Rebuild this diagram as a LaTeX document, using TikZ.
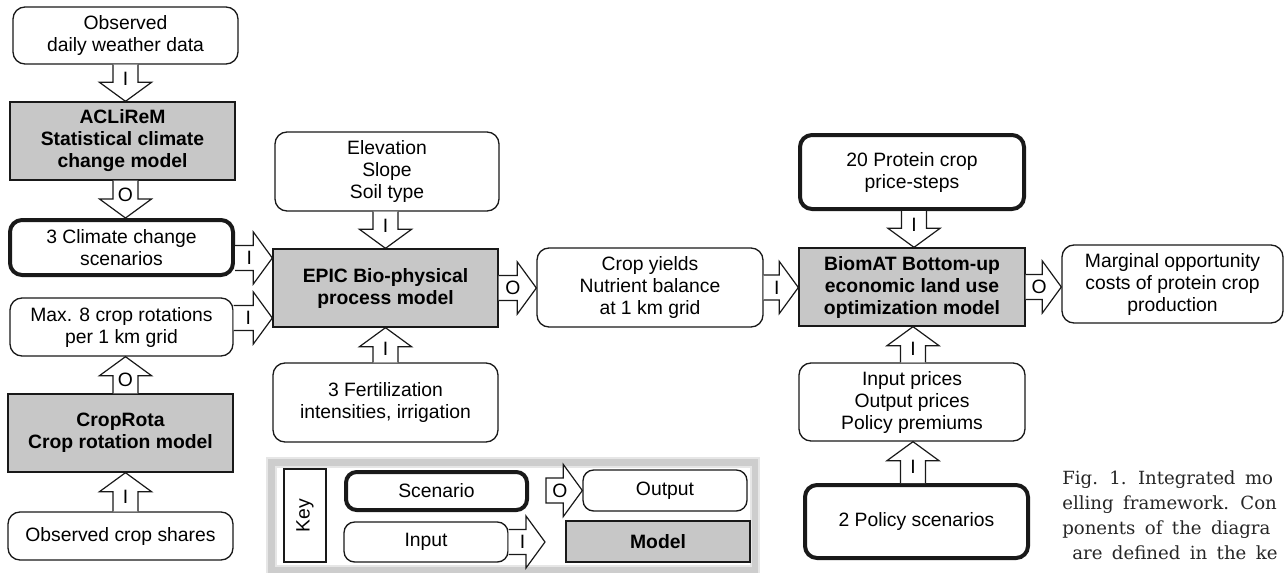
\documentclass[tikz,border=0pt]{standalone}
\usepackage{fontspec}
\setmainfont{Liberation Sans}
\newfontfamily\capfont{DejaVu Serif}
\usetikzlibrary{calc}
\definecolor{modelgray}{RGB}{199,199,199}
\definecolor{framegray}{RGB}{205,205,205}
\def\basw{9.4pt}
\def\bahw{19.5pt}
\def\bahl{14.25pt}
\newcommand\capsetup{\capfont\fontsize{13.6}{18}\selectfont\spaceskip=0.52em plus 0.1em\relax}
\newcommand\barrow[4][]{%
  \coordinate (ba-s) at (#2);
  \coordinate (ba-e) at (#3);
  \coordinate (ba-h) at ($(ba-e)!\bahl!(ba-s)$);
  \draw[blockarrow] ($(ba-s)!\basw!90:(ba-e)$) -- ($(ba-h)!\basw!90:(ba-e)$) -- ($(ba-h)!\bahw!90:(ba-e)$) -- (ba-e) -- ($(ba-h)!\bahw!-90:(ba-e)$) -- ($(ba-h)!\basw!-90:(ba-e)$) -- ($(ba-s)!\basw!-90:(ba-e)$) #1;
  \node[alabel] at ($(ba-s)!0.38!(ba-e)$) {#4};
}
\tikzset{
  txt/.style={font=\fontsize{14.5}{16.5}\selectfont},
  box/.style={txt, draw=black!90, line width=1pt, rounded corners=9pt, fill=white, align=center, inner sep=2pt},
  scen/.style={box, line width=3pt},
  model/.style={txt, font=\bfseries\fontsize{14.5}{16.5}\selectfont, draw=black!90, line width=1pt, fill=modelgray, align=center, inner sep=2pt},
  blockarrow/.style={draw=black!90, line width=0.9pt, fill=white, line join=miter},
  alabel/.style={txt, inner sep=0pt},
  captxt/.style={font=\capsetup, text=black!85, inner sep=0pt, anchor=base west},
}
\begin{document}
\begin{tikzpicture}[x=0.75pt,y=-0.75pt]
\useasboundingbox (0,0) rectangle (1285,572);

% left column
\node[box, minimum width=168.75pt, minimum height=42.75pt] (obs) at (125.5,35.5) {Observed\\daily weather data};
\node[model, minimum width=168.75pt, minimum height=58.5pt] (acl) at (122.5,141) {ACLiReM\\Statistical climate\\change model};
\node[scen, minimum width=167.25pt, minimum height=41.25pt] (clim) at (121.5,247.5) {3 Climate change\\scenarios};
\node[box, minimum width=167.25pt, minimum height=43.5pt] (rot) at (121.5,327) {Max. 8 crop rotations\\per 1 km grid};
\node[model, minimum width=168.75pt, minimum height=58.5pt] (crop) at (120.5,433) {CropRota\\Crop rotation model};
\node[box, minimum width=168.75pt, minimum height=36pt] (shares) at (120.5,536) {Observed crop shares};

% EPIC column
\node[box, minimum width=168pt, minimum height=59.25pt] (elev) at (387,171.5) {Elevation\\Slope\\Soil type};
\node[model, minimum width=168.75pt, minimum height=58.5pt] (epic) at (385.5,288) {EPIC Bio-physical\\process model};
\node[box, minimum width=168.75pt, minimum height=59.25pt] (fert) at (385.5,402.5) {3 Fertilization\\intensities, irrigation};

% yields
\node[box, minimum width=169.5pt, minimum height=59.25pt] (yields) at (650,287.5) {Crop yields\\Nutrient balance\\at 1 km grid};

% BiomAT column
\node[scen, minimum width=168pt, minimum height=55.5pt] (prot) at (912,172) {20 Protein crop\\price-steps};
\node[model, minimum width=169.5pt, minimum height=58.5pt] (biom) at (912,287) {BiomAT Bottom-up\\economic land use\\optimization model};
\node[box, minimum width=169.5pt, minimum height=58.5pt] (inprice) at (912,402) {Input prices\\Output prices\\Policy premiums};
\node[scen, minimum width=167.25pt, minimum height=54.75pt] (pol) at (916.5,521.5) {2 Policy scenarios};

% output
\node[box, minimum width=165.75pt, minimum height=58.5pt] (marg) at (1172.5,284) {Marginal opportunity\\costs of protein crop\\production};

% arrows left column
\barrow{obs.south}{acl.north -| obs.south}{I}
\barrow{acl.south -| obs.south}{clim.north -| obs.south}{O}
\barrow{crop.north -| obs.south}{rot.south -| obs.south}{O}
\barrow{shares.north -| obs.south}{crop.south -| obs.south}{I}

\coordinate (e1) at ($(epic.west)+(0,-30)$);
\coordinate (e2) at ($(epic.west)+(0,30)$);
\barrow{clim.east |- e1}{e1}{I}
\barrow{rot.east |- e2}{e2}{I}

% EPIC arrows
\barrow{elev.south -| epic.north}{epic.north}{I}
\barrow{fert.north -| epic.south}{epic.south}{I}
\barrow{epic.east}{yields.west |- epic.east}{O}
\barrow{yields.east}{biom.west |- yields.east}{I}

% BiomAT arrows
\coordinate (bx) at ($(biom.north)+(2,0)$);
\barrow{prot.south -| bx}{bx}{I}
\coordinate (bs) at ($(biom.south)+(1,0)$);
\barrow{inprice.north -| bs}{bs}{I}
\barrow{pol.north -| bs}{inprice.south -| bs}{I}
\barrow{biom.east}{marg.west |- biom.east}{O}

% key
\draw[line width=8pt, framegray!50] (271.5,462.5) rectangle (755,570);
\draw[line width=5pt, framegray] (271.5,462.5) rectangle (755,570);
\node[draw=black!90, line width=1pt, fill=white, minimum width=31.5pt, minimum height=69.75pt, inner sep=0pt, txt] (keylbl) at (305,515.5) {\rotatebox{90}{Key}};
\node[scen, rounded corners=8pt, minimum width=135.75pt, minimum height=28.5pt] (kscen) at (436.5,491) {Scenario};
\node[box, rounded corners=8pt, minimum width=123pt, minimum height=30pt] (kinp) at (426,542) {Input};
\node[box, rounded corners=8pt, minimum width=123pt, minimum height=30.75pt] (kout) at (665,490.5) {Output};
\node[model, minimum width=138pt, minimum height=30.75pt] (kmodel) at (658,541.5) {Model};
\coordinate (kI) at (545,542);
\barrow{kinp.east}{kI}{I}
\coordinate (kO) at (546,490.5);
\barrow[-- cycle]{kO}{kout.west}{O}

% caption
\node[captxt] (cap1) at (1062,484) {Fig. 1. Integrated mo};
\node[captxt] (cap2) at (1062,509) {elling framework. Con};
\node[captxt] (cap3) at (1062,534) {ponents of the diagra};
\node[captxt] (cap4) at (1072,559) {are defined in the ke};
\end{tikzpicture}
\end{document}
